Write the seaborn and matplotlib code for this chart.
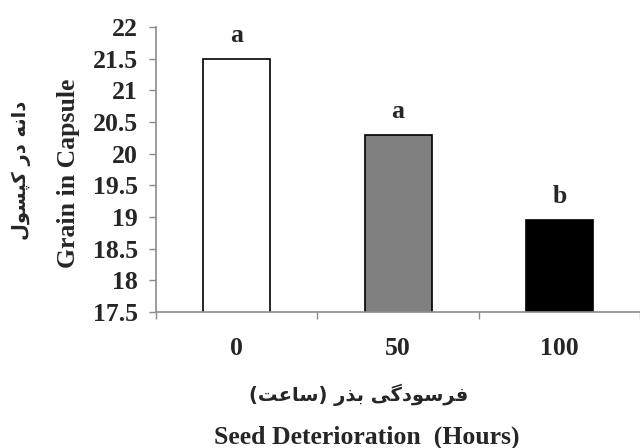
import numpy as np
import pandas as pd
import seaborn as sns
from matplotlib import pyplot as plt
from matplotlib.ticker import FixedLocator

sns.set_style('white')
plt.rcParams['font.family'] = ['Liberation Serif', 'DejaVu Sans']
plt.rcParams['font.weight'] = 'bold'

# data
hours = ['0', '50', '100']
grain = [21.5, 20.3, 18.95]
letters = ['a', 'a', 'b']
bar_colors = ['#ffffff', '#808080', '#000000']
yticks = [17.5, 18, 18.5, 19, 19.5, 20, 20.5, 21, 21.5, 22]

XLABEL_FA = 'فرسودگی بذر (ساعت)'
XLABEL_EN = 'Seed Deterioration  (Hours)'
YLABEL_FA = 'دانه در کپسول'
YLABEL_EN = 'Grain in Capsule'

# matplotlib has no arabic shaping, so pick the presentation forms by hand
FORMS = {
    '\u0627': ('\uFE8D', '\uFE8E', None, None),              # alef
    '\u0628': ('\uFE8F', '\uFE90', '\uFE91', '\uFE92'),      # beh
    '\u067E': ('\uFB56', '\uFB57', '\uFB58', '\uFB59'),      # peh
    '\u062A': ('\uFE95', '\uFE96', '\uFE97', '\uFE98'),      # teh
    '\u062F': ('\uFEA9', '\uFEAA', None, None),              # dal
    '\u0630': ('\uFEAB', '\uFEAC', None, None),              # thal
    '\u0631': ('\uFEAD', '\uFEAE', None, None),              # reh
    '\u0633': ('\uFEB1', '\uFEB2', '\uFEB3', '\uFEB4'),      # seen
    '\u0639': ('\uFEC9', '\uFECA', '\uFECB', '\uFECC'),      # ain
    '\u0641': ('\uFED1', '\uFED2', '\uFED3', '\uFED4'),      # feh
    '\u06A9': ('\uFB8E', '\uFB8F', '\uFB90', '\uFB91'),      # keheh
    '\u06AF': ('\uFB92', '\uFB93', '\uFB94', '\uFB95'),      # gaf
    '\u0644': ('\uFEDD', '\uFEDE', '\uFEDF', '\uFEE0'),      # lam
    '\u0646': ('\uFEE5', '\uFEE6', '\uFEE7', '\uFEE8'),      # noon
    '\u0647': ('\uFEE9', '\uFEEA', '\uFEEB', '\uFEEC'),      # heh
    '\u0648': ('\uFEED', '\uFEEE', None, None),              # waw
    '\u06CC': ('\uFBFC', '\uFBFD', '\uFBFE', '\uFBFF'),      # farsi yeh
}
FORMS['\u0643'] = FORMS['\u06A9']
FORMS['\u064A'] = FORMS['\u06CC']


def shape_fa(text):
    def joins_left(c):
        return c in FORMS and FORMS[c][2] is not None
    out = []
    for i, c in enumerate(text):
        if c not in FORMS:
            out.append(c)
            continue
        iso, fin, ini, med = FORMS[c]
        prev = i > 0 and joins_left(text[i - 1])
        nxt = ini is not None and i + 1 < len(text) and text[i + 1] in FORMS
        if prev and nxt:
            out.append(med)
        elif prev:
            out.append(fin)
        elif nxt:
            out.append(ini)
        else:
            out.append(iso)
    mirror = {'(': ')', ')': '('}
    return ''.join(mirror.get(c, c) for c in reversed(out))


df = pd.DataFrame({'hours': hours, 'grain': grain})

fig = plt.figure(figsize=(6.4, 4.48), dpi=100)
ax = fig.add_axes([0.244, 0.3036, 0.756, 0.6362])

sns.barplot(data=df, x='hours', y='grain', hue='hours', palette=bar_colors,
            order=hours, hue_order=hours, legend=False, width=0.415,
            edgecolor='black', linewidth=1.2, ax=ax)

ax.set_xlim(-0.5, 2.5)
ax.set_ylim(17.5, 22)
ax.set_yticks(yticks)
ax.set_yticklabels([f'{t:g}' for t in yticks])
ax.xaxis.set_minor_locator(FixedLocator([-0.5, 0.5, 1.5, 2.5]))

grey = '#8c8c8c'
for side in ['top', 'right']:
    ax.spines[side].set_visible(False)
for side in ['left', 'bottom']:
    ax.spines[side].set_color(grey)
    ax.spines[side].set_linewidth(1.2)

ax.tick_params(axis='y', which='major', length=5, width=1, color=grey,
               direction='out', left=True, pad=8, labelsize=18.5)
ax.tick_params(axis='x', which='major', length=0, pad=18, labelsize=18.5)
ax.tick_params(axis='x', which='minor', length=5, width=1, color=grey,
               direction='out', bottom=True)
ax.set_xlabel('')
ax.set_ylabel('')

for i, (v, l) in enumerate(zip(grain, letters)):
    ax.annotate(l, (i, v), xytext=(0, 17), textcoords='offset points',
                ha='center', va='center', fontsize=18.5, fontweight='bold')

fig.text(68 / 640, 1 - 173 / 448, YLABEL_EN, rotation=90, ha='center',
         va='center', fontsize=18.5, fontweight='bold')
fig.text(21 / 640, 1 - 170 / 448, shape_fa(YLABEL_FA), rotation=90,
         ha='center', va='center', fontsize=14, fontweight='bold',
         family='DejaVu Sans')
fig.text(359 / 640, 1 - 395 / 448, shape_fa(XLABEL_FA), ha='center',
         va='center', fontsize=14, fontweight='bold', family='DejaVu Sans')
fig.text(367 / 640, 1 - 437 / 448, XLABEL_EN, ha='center', va='center',
         fontsize=18.5, fontweight='bold')

fig.savefig('out.png', dpi=100)
